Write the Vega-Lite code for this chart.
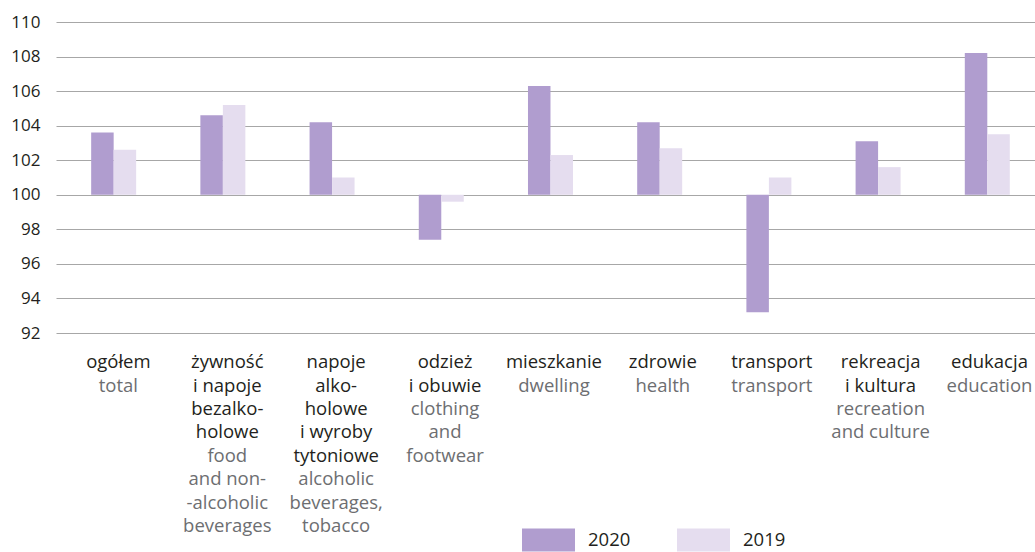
{
  "$schema": "https://vega.github.io/schema/vega-lite/v6.json",
  "padding": {"left": 10, "top": 13, "right": 0, "bottom": 0},
  "bounds": "flush",
  "spacing": 0,
  "config": {
    "view": {"stroke": null},
    "font": "Open Sans",
    "legend": {
      "orient": "none",
      "legendX": 466,
      "legendY": 491,
      "direction": "horizontal",
      "padding": 0,
      "symbolType": "M-1,-0.434H1V0.434H-1Z",
      "symbolSize": 2809,
      "symbolStrokeWidth": 0,
      "symbolOpacity": 1,
      "labelFontSize": 18.5,
      "labelColor": "#231f20",
      "labelOffset": 13,
      "columnPadding": 46
    }
  },
  "datasets": {
    "bars": [
      {"cat": "ogółem", "year": "2020", "value": 103.6},
      {"cat": "ogółem", "year": "2019", "value": 102.6},
      {"cat": "żywność", "year": "2020", "value": 104.6},
      {"cat": "żywność", "year": "2019", "value": 105.2},
      {"cat": "napoje", "year": "2020", "value": 104.2},
      {"cat": "napoje", "year": "2019", "value": 101.0},
      {"cat": "odzież", "year": "2020", "value": 97.4},
      {"cat": "odzież", "year": "2019", "value": 99.6},
      {"cat": "mieszkanie", "year": "2020", "value": 106.3},
      {"cat": "mieszkanie", "year": "2019", "value": 102.3},
      {"cat": "zdrowie", "year": "2020", "value": 104.2},
      {"cat": "zdrowie", "year": "2019", "value": 102.7},
      {"cat": "transport", "year": "2020", "value": 93.2},
      {"cat": "transport", "year": "2019", "value": 101.0},
      {"cat": "rekreacja", "year": "2020", "value": 103.1},
      {"cat": "rekreacja", "year": "2019", "value": 101.6},
      {"cat": "edukacja", "year": "2020", "value": 108.2},
      {"cat": "edukacja", "year": "2019", "value": 103.5}
    ],
    "labels": [
      {"cat": "ogółem", "line": 0, "lang": "pl", "text": "ogółem"},
      {"cat": "ogółem", "line": 1, "lang": "en", "text": "total"},
      {"cat": "żywność", "line": 0, "lang": "pl", "text": "żywność"},
      {"cat": "żywność", "line": 1, "lang": "pl", "text": "i napoje"},
      {"cat": "żywność", "line": 2, "lang": "pl", "text": "bezalko-"},
      {"cat": "żywność", "line": 3, "lang": "pl", "text": "holowe"},
      {"cat": "żywność", "line": 4, "lang": "en", "text": "food"},
      {"cat": "żywność", "line": 5, "lang": "en", "text": "and non-"},
      {"cat": "żywność", "line": 6, "lang": "en", "text": "-alcoholic"},
      {"cat": "żywność", "line": 7, "lang": "en", "text": "beverages"},
      {"cat": "napoje", "line": 0, "lang": "pl", "text": "napoje"},
      {"cat": "napoje", "line": 1, "lang": "pl", "text": "alko-"},
      {"cat": "napoje", "line": 2, "lang": "pl", "text": "holowe"},
      {"cat": "napoje", "line": 3, "lang": "pl", "text": "i wyroby"},
      {"cat": "napoje", "line": 4, "lang": "pl", "text": "tytoniowe"},
      {"cat": "napoje", "line": 5, "lang": "en", "text": "alcoholic"},
      {"cat": "napoje", "line": 6, "lang": "en", "text": "beverages,"},
      {"cat": "napoje", "line": 7, "lang": "en", "text": "tobacco"},
      {"cat": "odzież", "line": 0, "lang": "pl", "text": "odzież"},
      {"cat": "odzież", "line": 1, "lang": "pl", "text": "i obuwie"},
      {"cat": "odzież", "line": 2, "lang": "en", "text": "clothing"},
      {"cat": "odzież", "line": 3, "lang": "en", "text": "and"},
      {"cat": "odzież", "line": 4, "lang": "en", "text": "footwear"},
      {"cat": "mieszkanie", "line": 0, "lang": "pl", "text": "mieszkanie"},
      {"cat": "mieszkanie", "line": 1, "lang": "en", "text": "dwelling"},
      {"cat": "zdrowie", "line": 0, "lang": "pl", "text": "zdrowie"},
      {"cat": "zdrowie", "line": 1, "lang": "en", "text": "health"},
      {"cat": "transport", "line": 0, "lang": "pl", "text": "transport"},
      {"cat": "transport", "line": 1, "lang": "en", "text": "transport"},
      {"cat": "rekreacja", "line": 0, "lang": "pl", "text": "rekreacja"},
      {"cat": "rekreacja", "line": 1, "lang": "pl", "text": "i kultura"},
      {"cat": "rekreacja", "line": 2, "lang": "en", "text": "recreation"},
      {"cat": "rekreacja", "line": 3, "lang": "en", "text": "and culture"},
      {"cat": "edukacja", "line": 0, "lang": "pl", "text": "edukacja"},
      {"cat": "edukacja", "line": 1, "lang": "en", "text": "education"}
    ]
  },
  "vconcat": [
    {
      "width": 980,
      "height": 311,
      "data": {"name": "bars"},
      "mark": {"type": "bar"},
      "encoding": {
        "x": {
          "field": "cat",
          "type": "nominal",
          "scale": {
            "domain": ["ogółem", "żywność", "napoje", "odzież", "mieszkanie", "zdrowie", "transport", "rekreacja", "edukacja"],
            "paddingInner": 0.588,
            "paddingOuter": 0.281,
            "align": 0.573
          },
          "axis": null
        },
        "xOffset": {"field": "year", "type": "nominal", "scale": {"domain": ["2020", "2019"]}},
        "y": {
          "field": "value",
          "type": "quantitative",
          "scale": {"domain": [92, 110], "nice": false, "zero": false},
          "axis": {
            "values": [92, 94, 96, 98, 100, 102, 104, 106, 108, 110],
            "domain": false,
            "ticks": false,
            "grid": true,
            "gridColor": "#a7a7a7",
            "gridWidth": 1,
            "labelFontSize": 17,
            "labelColor": "#231f20",
            "labelPadding": 16,
            "title": null
          }
        },
        "y2": {"datum": 100},
        "color": {
          "field": "year",
          "type": "nominal",
          "scale": {"domain": ["2020", "2019"], "range": ["#b09dcf", "#e5ddef"]},
          "legend": {"title": null}
        }
      }
    },
    {
      "width": 980,
      "height": 198.9,
      "data": {"name": "labels"},
      "encoding": {
        "x": {
          "field": "cat",
          "type": "nominal",
          "scale": {
            "domain": ["ogółem", "żywność", "napoje", "odzież", "mieszkanie", "zdrowie", "transport", "rekreacja", "edukacja"],
            "paddingInner": 0.588,
            "paddingOuter": 0.281,
            "align": 0.573
          },
          "axis": null
        },
        "y": {
          "field": "line",
          "type": "quantitative",
          "scale": {"domain": [-1.5, 7], "reverse": true, "nice": false, "zero": false},
          "axis": null
        },
        "text": {"field": "text"}
      },
      "layer": [
        {
          "transform": [{"filter": "datum.lang == 'pl'"}],
          "mark": {"type": "text", "fontSize": 18.5, "baseline": "alphabetic", "align": "center", "color": "#231f20"}
        },
        {
          "transform": [{"filter": "datum.lang == 'en'"}],
          "mark": {"type": "text", "fontSize": 18.5, "baseline": "alphabetic", "align": "center", "color": "#6d6e71"}
        }
      ]
    }
  ]
}
